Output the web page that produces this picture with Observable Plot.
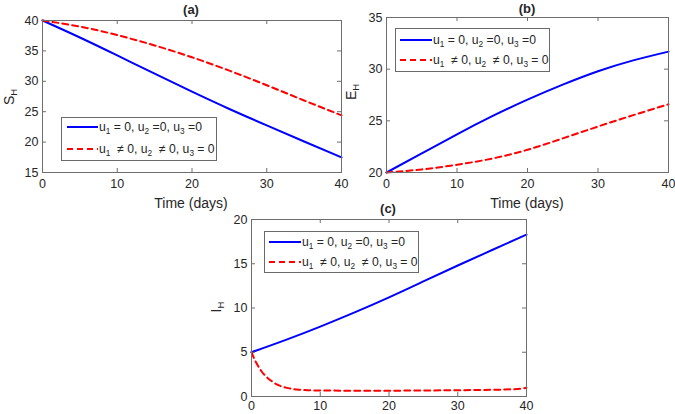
<!DOCTYPE html>
<html><head><meta charset="utf-8">
<script src="https://cdn.jsdelivr.net/npm/d3@7"></script>
<script src="https://cdn.jsdelivr.net/npm/@observablehq/plot@0.6"></script>
<style>
body{margin:0;background:#fff;}
#root{position:relative;width:675px;height:414px;overflow:hidden;font-family:"Liberation Sans",Arial,Helvetica,sans-serif;color:#262626;background:#fff;}
.panel{position:absolute;}
.lab{position:absolute;white-space:nowrap;transform:translate(-50%,-50%);line-height:1;}
.title{font-weight:bold;font-size:13px;}
.xlabel{font-size:14px;}
.ylabel{font-size:14px;transform:translate(-50%,-50%) rotate(-90deg);}
sub{font-size:0.68em;vertical-align:-0.35em;line-height:0;}
.legend{position:absolute;border:1px solid #6a6a6a;background:#fff;box-sizing:border-box;}
.row{position:absolute;left:0;font-size:12.2px;white-space:nowrap;display:flex;align-items:center;height:14px;}
.row svg{display:block;}
</style>
</head><body>
<div id="root"></div>
<script>
// ---- data ----
const xTicks = [0, 10, 20, 30, 40];

const tA = [0, 5, 10, 15, 20, 25, 30, 35, 40];
const sBlue = [40, 37.2, 34.25, 31.25, 28.3, 25.45, 22.75, 20.1, 17.5];
const sRed = [40, 39.0, 37.6, 35.9, 33.95, 31.75, 29.35, 26.85, 24.4];
const yTicksA = [15, 20, 25, 30, 35, 40];

const tB = [0, 5, 10, 15, 20, 25, 30, 35, 40];
const eBlue = [20, 21.85, 23.7, 25.45, 27.05, 28.5, 29.8, 30.85, 31.7];
const eRed = [20, 20.3, 20.75, 21.35, 22.2, 23.3, 24.45, 25.55, 26.6];
const yTicksB = [20, 25, 30, 35];

const tC1 = [0, 5, 10, 15, 20, 25, 30, 35, 40];
const iBlue = [5.0, 6.4, 7.9, 9.5, 11.2, 13.0, 14.8, 16.55, 18.3];
const tC2 = [0, 0.5, 1, 1.5, 2, 3, 4, 5, 6, 7, 8, 10, 15, 20, 25, 30, 35, 38, 39.5, 40];
const iRed = [5.0, 4.1, 3.4, 2.8, 2.35, 1.7, 1.25, 1.0, 0.85, 0.77, 0.72, 0.68, 0.66, 0.66, 0.68, 0.71, 0.76, 0.82, 0.92, 1.0];
const yTicksC = [0, 5, 10, 15, 20];

const legendLabels = [
  "u<sub>1</sub> = 0, u<sub>2</sub> =0, u<sub>3</sub> =0",
  "u<sub>1</sub> &nbsp;≠ 0, u<sub>2</sub> &nbsp;≠ 0, u<sub>3</sub> = 0"
];
const colors = ["#0000ff", "#ff0000"];

const root = document.getElementById("root");

function zip(t, v) { return t.map((x, i) => ({t: x, v: v[i]})); }

function panel({left, top, width, height, mt, mr, mb, ml, ydom, yticks, blue, red, redCurve, xpad}) {
  const H = height - mt - mb, W = width - ml - mr;
  const ax = "#6e6e6e";
  const p = Plot.plot({
    width, height, marginTop: mt, marginRight: mr, marginBottom: mb, marginLeft: ml,
    style: {fontFamily: '"Liberation Sans", Arial, sans-serif', fontSize: "12px", color: "#262626", background: "transparent", overflow: "visible"},
    x: {domain: [0, 40]},
    y: {domain: ydom},
    marks: [
      Plot.line(blue, {x: "t", y: "v", stroke: colors[0], strokeWidth: 2, curve: "natural"}),
      Plot.line(red, {x: "t", y: "v", stroke: colors[1], strokeWidth: 2, strokeDasharray: "6,4", curve: redCurve}),
      Plot.tickX(xTicks, {x: d => d, insetTop: H - 4, stroke: ax}),
      Plot.tickX(xTicks, {x: d => d, insetBottom: H - 4, stroke: ax}),
      Plot.tickY(yticks, {y: d => d, insetRight: W - 4, stroke: ax}),
      Plot.tickY(yticks, {y: d => d, insetLeft: W - 4, stroke: ax}),
      Plot.frame({stroke: ax, strokeWidth: 1}),
      Plot.axisX(xTicks, {tickSize: 0, tickPadding: xpad, label: null, fill: "#262626", fontSize: 12.5}),
      Plot.axisY(yticks, {tickSize: 0, tickPadding: 4, label: null, fill: "#262626", fontSize: 12.5})
    ]
  });
  p.classList.add("panel");
  p.style.left = left + "px";
  p.style.top = top + "px";
  root.appendChild(p);
}

function label(cls, html, x, y) {
  const d = document.createElement("div");
  d.className = "lab " + cls;
  d.innerHTML = html;
  d.style.left = x + "px";
  d.style.top = y + "px";
  root.appendChild(d);
}

function legend(x, y, w, h, rows, sx0, sx1) {
  const box = document.createElement("div");
  box.className = "legend";
  Object.assign(box.style, {left: x + "px", top: y + "px", width: w + "px", height: h + "px"});
  rows.forEach((ry, i) => {
    const r = document.createElement("div");
    r.className = "row";
    r.style.top = (ry - y - 8) + "px";
    r.style.left = (sx0 - x - 1) + "px";
    const sw = sx1 - sx0;
    r.innerHTML = `<svg width="${sw + 1}" height="14"><line x1="0" x2="${sw}" y1="7" y2="7" stroke="${colors[i]}" stroke-width="2" ${i ? 'stroke-dasharray="6,4"' : ''}/></svg><span>${legendLabels[i]}</span>`;
    box.appendChild(r);
  });
  root.appendChild(box);
}

// panel (a)
panel({left: 0, top: 0, width: 345, height: 196, mt: 20, mr: 4, mb: 24, ml: 42,
  ydom: [15, 40], yticks: yTicksA, blue: zip(tA, sBlue), red: zip(tA, sRed), redCurve: "natural", xpad: 7});
// panel (b)
panel({left: 344, top: 0, width: 331, height: 196, mt: 17, mr: 7, mb: 24, ml: 42,
  ydom: [20, 35], yticks: yTicksB, blue: zip(tB, eBlue), red: zip(tB, eRed), redCurve: "natural", xpad: 7});
// panel (c)
panel({left: 209, top: 200, width: 330, height: 214, mt: 19, mr: 13, mb: 18, ml: 42,
  ydom: [0, 20], yticks: yTicksC, blue: zip(tC1, iBlue), red: zip(tC2, iRed), redCurve: "monotone-x", xpad: 5});

label("title", "(a)", 191, 9);
label("title", "(b)", 527, 8);
label("title", "(c)", 388, 208);
label("xlabel", "Time (days)", 191, 203);
label("xlabel", "Time (days)", 527, 203);
label("ylabel", "S<sub>H</sub>", 9, 97);
label("ylabel", "E<sub>H</sub>", 351, 92);
label("ylabel", "I<sub>H</sub>", 216, 307);

legend(61, 117, 156, 44, [127, 149], 67, 98);
legend(395, 28, 155, 44, [40, 60], 400, 432);
legend(264, 231, 155, 42, [242, 262], 269, 301);
</script>
</body></html>
